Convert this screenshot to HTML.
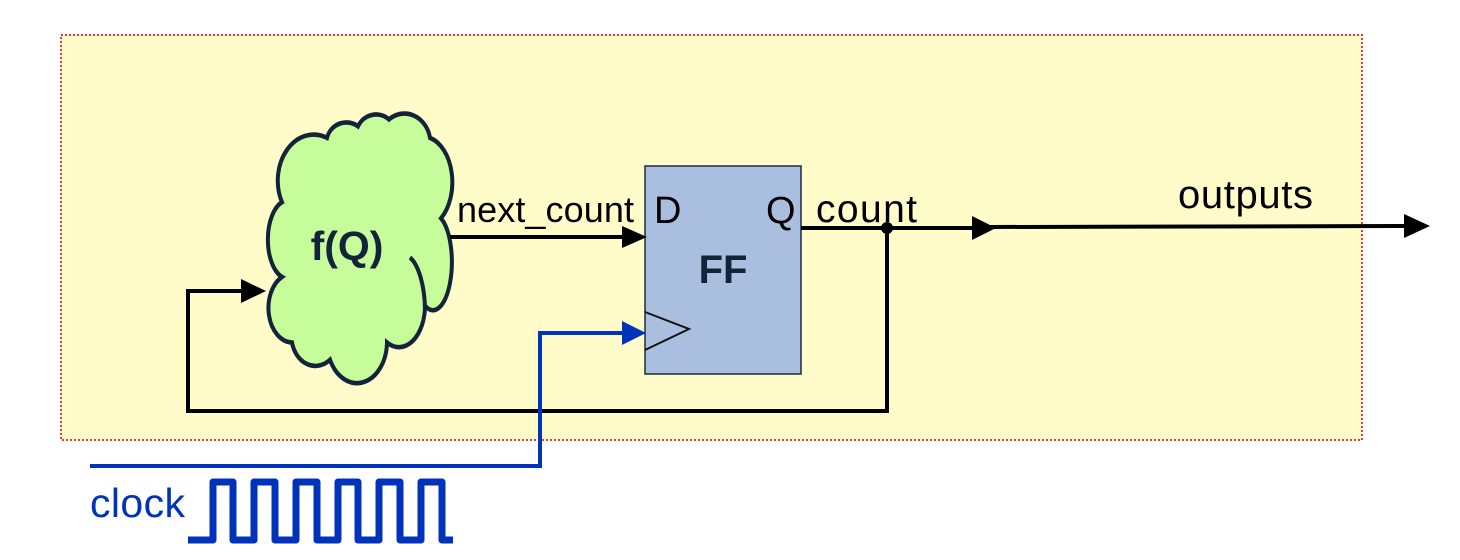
<!DOCTYPE html>
<html><head><style>
html,body{margin:0;padding:0;background:#fff;}
svg{display:block;}
text{font-family:"Liberation Sans",Arial,sans-serif;}
</style></head><body>
<svg width="1460" height="560" viewBox="0 0 1460 560" xmlns="http://www.w3.org/2000/svg">
<rect x="61" y="35" width="1301" height="405" fill="#fffcca" stroke="#ff3333" stroke-width="2" stroke-dasharray="2,2"/>
<!-- cloud -->
<g transform="translate(0,-37) scale(1,1.15)">
<path d="M282,208 A36,40 0 0 1 327,152 A20,18 0 0 1 358,142 A20,18 0 0 1 389,136 A26,26 0 0 1 430,152 A30,40 0 0 1 441,222 A18,40 0 0 1 425,298 A26,36 0 0 1 387,330 A30,36 0 0 1 330,345 A24,26 0 0 1 292,330 A24,30 0 0 1 282,273 A20,34 0 0 1 282,208 Z" fill="#c6fd9a" stroke="#12233a" stroke-width="4"/>
<path d="M410,256 A22,50 0 0 1 425,300" fill="none" stroke="#12233a" stroke-width="4"/>
</g>
<text x="347" y="260" font-size="41" font-weight="bold" fill="#12233a" text-anchor="middle">f(Q)</text>
<!-- FF -->
<rect x="645" y="166" width="156" height="208" fill="#aabfe0" stroke="#1a2a3e" stroke-width="1.5"/>
<polyline points="645,312 689,329 645,350" fill="none" stroke="#111" stroke-width="2"/>
<text x="654" y="223" font-size="38" fill="#000">D</text>
<text x="766" y="223" font-size="38" fill="#000">Q</text>
<text x="723" y="283" font-size="40" font-weight="bold" fill="#12233a" text-anchor="middle">FF</text>
<!-- next_count -->
<text x="457" y="222" font-size="36" fill="#000" textLength="177">next_count</text>
<line x1="450" y1="237" x2="625" y2="237" stroke="#000" stroke-width="4"/>
<polygon points="622,226 647,237 622,248" fill="#000"/>
<!-- count -->
<text x="816" y="222" font-size="39" fill="#000" textLength="101">count</text>
<line x1="801" y1="228" x2="980" y2="228" stroke="#000" stroke-width="4"/>
<polygon points="972,216 996,228 972,240" fill="#000"/>
<line x1="990" y1="227" x2="1410" y2="226" stroke="#000" stroke-width="4"/>
<polygon points="1404,214 1430,226 1404,238" fill="#000"/>
<text x="1178" y="208" font-size="40" fill="#000" textLength="135">outputs</text>
<circle cx="887" cy="228" r="6" fill="#000"/>
<!-- feedback -->
<polyline points="887,228 887,411 188,411 188,291 245,291" fill="none" stroke="#000" stroke-width="4"/>
<polygon points="241,279 266,291 241,303" fill="#000"/>
<!-- clock -->
<polyline points="90,466 540,466 540,333 625,333" fill="none" stroke="#0033bb" stroke-width="4"/>
<polygon points="622,321 646,333 622,345" fill="#0033bb"/>
<text x="90" y="517" font-size="41" fill="#0033bb" textLength="95">clock</text>
<polyline points="188,540 213,540 213,482 233,482 233,540 254,540 254,482 275,482 275,540 296,540 296,482 317,482 317,540 338,540 338,482 358,482 358,540 379,540 379,482 400,482 400,540 421,540 421,482 442,482 442,540 453,540" fill="none" stroke="#0033bb" stroke-width="7" stroke-linejoin="round"/>
</svg>
</body></html>
